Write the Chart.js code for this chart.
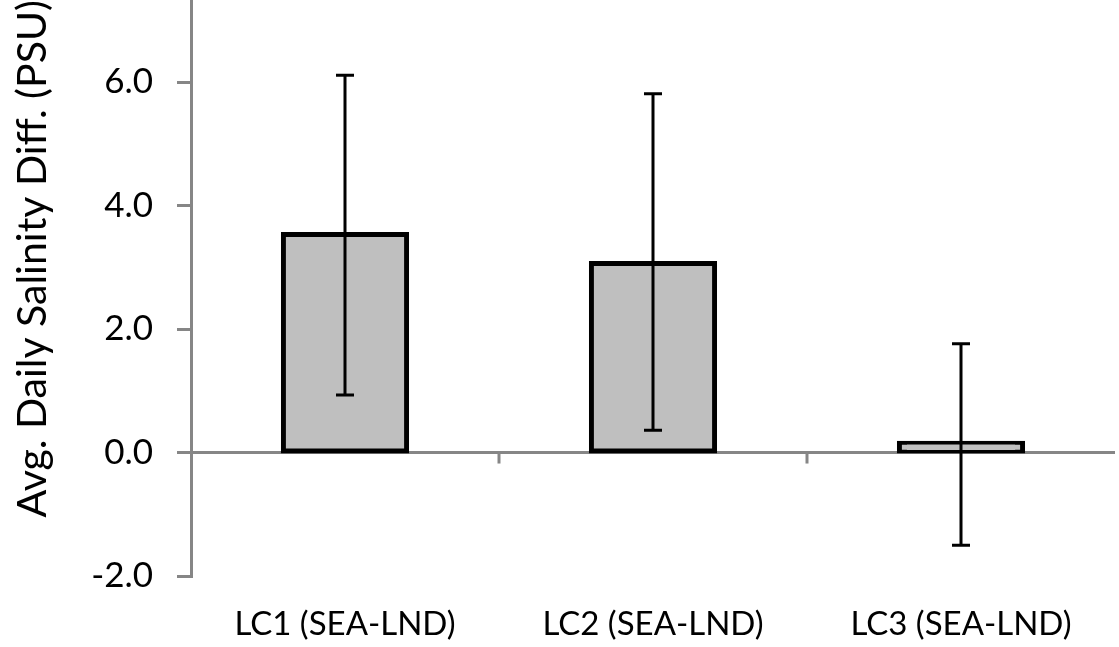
<!DOCTYPE html>
<html>
<head>
<meta charset="utf-8">
<script src="https://cdn.jsdelivr.net/npm/chart.js@4"></script>
<style>
  body { margin: 0; background: #fff; }
  #wrap { width: 1119px; height: 647px; }
</style>
</head>
<body>
<div id="wrap"><canvas id="salinity-chart"></canvas></div>
<script>
const categories = ['LC1 (SEA-LND)', 'LC2 (SEA-LND)', 'LC3 (SEA-LND)'];
const means = [3.53, 3.06, 0.15];
const errLow = [0.93, 0.36, -1.50];
const errHigh = [6.11, 5.81, 1.76];
const yTicks = [-2, 0, 2, 4, 6];

const AXIS_GREY = '#868686';
const FONT = 'Lato';

// error bars + category tick marks on the zero line
const errorBars = {
  id: 'errorBars',
  afterDatasetsDraw(chart) {
    const ctx = chart.ctx;
    const x = chart.scales.x;
    const y = chart.scales.y;
    ctx.save();
    ctx.strokeStyle = '#000';
    ctx.lineWidth = 3;
    errLow.forEach((lo, i) => {
      const cx = x.getPixelForValue(i);
      const yl = y.getPixelForValue(lo);
      const yh = y.getPixelForValue(errHigh[i]);
      ctx.beginPath();
      ctx.moveTo(cx, yl); ctx.lineTo(cx, yh);
      ctx.moveTo(cx - 9, yl); ctx.lineTo(cx + 9, yl);
      ctx.moveTo(cx - 9, yh); ctx.lineTo(cx + 9, yh);
      ctx.stroke();
    });
    // small tick marks between categories
    const y0 = y.getPixelForValue(0);
    ctx.strokeStyle = AXIS_GREY;
    for (let i = 1; i < categories.length; i++) {
      const bx = (x.getPixelForValue(i - 1) + x.getPixelForValue(i)) / 2;
      ctx.beginPath();
      ctx.moveTo(bx, y0); ctx.lineTo(bx, y0 + 11);
      ctx.stroke();
    }
    ctx.restore();
  }
};

const chartConfig = {
  type: 'bar',
  data: {
    labels: categories,
    datasets: [{
      data: means,
      backgroundColor: '#bfbfbf',
      borderColor: '#000',
      borderWidth: 5,
      inflateAmount: 2.5,
      borderSkipped: false,
      barPercentage: 0.40,
      categoryPercentage: 1
    }]
  },
  options: {
    responsive: true,
    maintainAspectRatio: false,
    animation: false,
    layout: { padding: { top: 0, right: 4, bottom: 3, left: 0 } },
    plugins: { legend: { display: false }, tooltip: { enabled: false } },
    scales: {
      x: {
        grid: { display: false },
        border: { display: false },
        afterFit: (scale) => { scale.height = 68; },
        ticks: { color: '#000', padding: 21, font: { family: FONT, size: 33 } }
      },
      y: {
        min: -2,
        max: 7.33,
        afterBuildTicks: (scale) => { scale.ticks = yTicks.map(v => ({ value: v })); },
        afterFit: (scale) => {
          scale.width = 191;
          scale.paddingTop = 0;
          scale.paddingBottom = 0;
        },
        border: { color: AXIS_GREY, width: 3 },
        grid: {
          color: (c) => (c.tick && c.tick.value === 0 ? AXIS_GREY : 'rgba(0,0,0,0)'),
          lineWidth: 3,
          tickColor: AXIS_GREY,
          tickWidth: 3,
          tickLength: 14
        },
        ticks: {
          color: '#000',
          padding: 24,
          font: { family: FONT, size: 35 },
          callback: (v) => Number(v).toFixed(1)
        },
        title: {
          display: true,
          text: 'Avg. Daily Salinity Diff. (PSU)',
          align: 'end',
          color: '#000',
          padding: { top: 8, bottom: 0 },
          font: { family: FONT, size: 41 }
        }
      }
    }
  },
  plugins: [errorBars]
};

new Chart(document.getElementById('salinity-chart'), chartConfig);
</script>
</body>
</html>
